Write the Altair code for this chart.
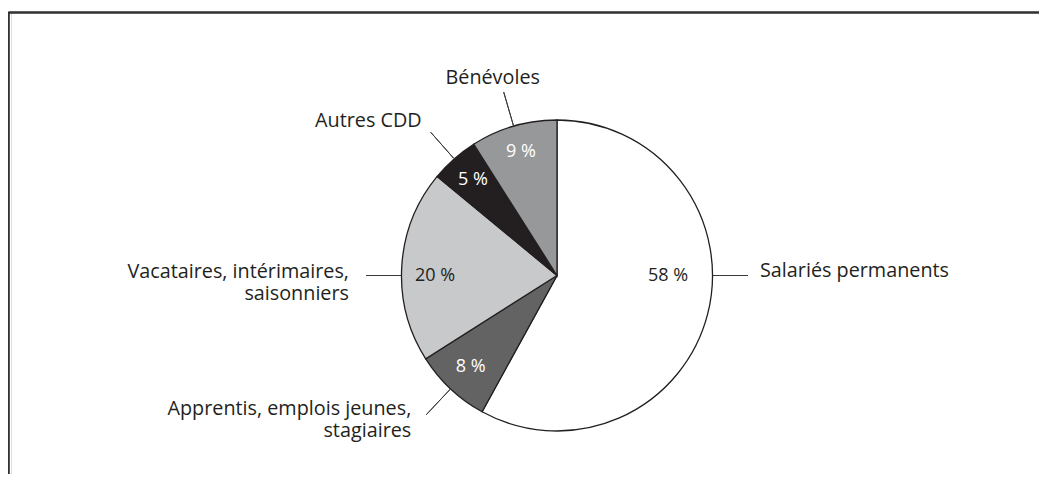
import altair as alt
import pandas as pd

# ---- data ----
categories = [
    "Salariés permanents",
    "Apprentis, emplois jeunes,\nstagiaires",
    "Vacataires, intérimaires,\nsaisonniers",
    "Autres CDD",
    "Bénévoles",
]
values = [58, 8, 20, 5, 9]
pct_labels = ["58 %", "8 %", "20 %", "5 %", "9 %"]
fill_colors = ["#ffffff", "#636363", "#c8c9cb", "#231f20", "#97989a"]
pct_text_colors = ["#231f20", "#ffffff", "#231f20", "#ffffff", "#ffffff"]

# ---- layout ----
W, H = 1028, 462
PAD_L, PAD_T = 3, 4
CX, CY = 557 - 8 - PAD_L, 275.5 - 8 - PAD_T
R = 155.5
FONT = "Open Sans"
STROKE = "#231f20"

ends = pd.Series(values).cumsum()
starts = ends - pd.Series(values)
mid = (starts + ends) / 2
# labels of the two big slices sit at 3 and 9 o'clock
label_theta = list(mid)
label_theta[0] = 25
label_theta[2] = 75

df = pd.DataFrame({
    "cat": categories,
    "value": values,
    "start": starts,
    "end": ends,
    "lt": label_theta,
    "pct": pct_labels,
    "fill": fill_colors,
    "tcol": pct_text_colors,
    "pr": [111, 126, 122, 127, 129],
})

theta_scale = alt.Scale(domain=[0, 100], range=[0, 6.283185307179586])
cx = alt.value(CX)
cy = alt.value(CY)

pie = alt.Chart(df).mark_arc(
    radius=R, stroke=STROKE, strokeWidth=1.3, strokeJoin="miter"
).encode(
    theta=alt.Theta("start:Q", scale=theta_scale, stack=None),
    theta2="end:Q",
    color=alt.Color("fill:N", scale=None),
    x=cx, y=cy,
)

leaders = alt.Chart(df).mark_arc(
    radius=156, radius2=191, stroke="#3a3a3a", strokeWidth=1, fill=None
).encode(
    theta=alt.Theta("lt:Q", scale=theta_scale, stack=None),
    theta2="lt:Q",
    x=cx, y=cy,
)

pct = alt.Chart(df).mark_text(
    font=FONT, fontSize=18, baseline="middle", align="center"
).encode(
    theta=alt.Theta("lt:Q", scale=theta_scale, stack=None),
    radius=alt.Radius("pr:Q", scale=None),
    text="pct:N",
    color=alt.Color("tcol:N", scale=None),
    x=cx, y=cy,
)

# outer label settings: align, dx, dy
label_cfg = {
    categories[0]: ("left", 12, 1.5),
    categories[1]: ("right", -15, 0),
    categories[2]: ("right", -17, 2),
    categories[3]: ("right", -9, -5),
    categories[4]: ("center", -11, -8),
}
outer_layers = []
for cat, (al, dx, dy) in label_cfg.items():
    outer_layers.append(
        alt.Chart(df).transform_filter(alt.datum.cat == cat).mark_text(
            font=FONT, fontSize=19.8, align=al, baseline="alphabetic",
            dx=dx, dy=dy, radius=191, lineBreak="\n", lineHeight=22.5,
            color="#231f20",
        ).encode(
            theta=alt.Theta("lt:Q", scale=theta_scale, stack=None),
            text="cat:N",
            x=cx, y=cy,
        )
    )

frame_top = alt.Chart(df).mark_rule(color="#333333", strokeWidth=1.6).encode(
    x=alt.value(-2.5), x2=alt.value(W), y=alt.value(0.5)
)
frame_left = alt.Chart(df).mark_rule(color="#333333", strokeWidth=1.6).encode(
    x=alt.value(-2.5), y=alt.value(0.5), y2=alt.value(H)
)

chart = alt.layer(
    frame_top, frame_left, pie, leaders, pct, *outer_layers
).properties(
    width=W, height=H,
    autosize=alt.AutoSizeParams(type="none"),
    padding={"left": PAD_L, "top": PAD_T, "right": 0, "bottom": 0},
).configure_view(stroke="transparent", strokeWidth=0).configure(background="white")

chart.save("out.html", embed_options={"renderer": "svg", "actions": False})
